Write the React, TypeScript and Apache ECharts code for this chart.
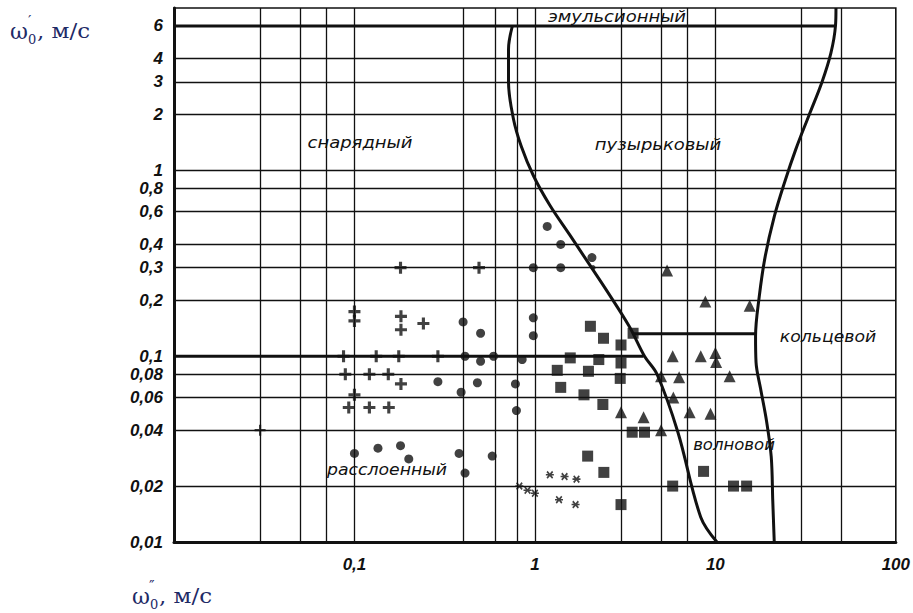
import React, { useEffect, useRef } from "react";
import * as echarts from "echarts";

// ---- axis ticks (grid lines) ----
const xGridValues = [0.03, 0.05, 0.07, 0.1, 0.4, 0.6, 0.8, 1, 3, 5, 7, 10, 30, 50];
const yTickValues = [0.01, 0.02, 0.04, 0.06, 0.08, 0.1, 0.2, 0.3, 0.4, 0.6, 0.8, 1, 2, 3, 4, 6];
const yTickLabels = ["0,01", "0,02", "0,04", "0,06", "0,08", "0,1", "0,2", "0,3", "0,4", "0,6", "0,8", "1", "2", "3", "4", "6"];
const yNoGridLine = [0.01, 0.1, 6];
const xLabelValues = [0.1, 1, 10, 100];
const xLabelTexts = ["0,1", "1", "10", "100"];

// ---- experimental points [w0'' , w0'] ----
const crosses = [
  [0.1, 0.174], [0.1, 0.155], [0.087, 0.1], [0.132, 0.1], [0.176, 0.1], [0.29, 0.1],
  [0.089, 0.08], [0.121, 0.08], [0.154, 0.08], [0.181, 0.071], [0.1, 0.062],
  [0.093, 0.053], [0.121, 0.053], [0.155, 0.053], [0.18, 0.3], [0.49, 0.3],
  [0.181, 0.164], [0.181, 0.139], [0.241, 0.15],
];
const smallCrosses = [[0.03, 0.04]];
const circles = [
  [1.17, 0.5], [1.39, 0.4], [2.07, 0.34], [0.98, 0.3], [1.39, 0.3], [0.4, 0.153],
  [0.5, 0.133], [0.98, 0.161], [0.98, 0.129], [0.41, 0.1], [0.5, 0.094], [0.59, 0.1],
  [0.85, 0.096], [0.29, 0.073], [0.48, 0.072], [0.78, 0.071], [0.39, 0.064],
  [0.79, 0.051], [0.1, 0.03], [0.135, 0.032], [0.18, 0.033], [0.2, 0.028],
  [0.38, 0.03], [0.58, 0.029], [0.41, 0.0235],
];
const smallCircles = [[2.1, 0.3]];
const stars = [
  [0.82, 0.02], [0.91, 0.019], [1.0, 0.0183], [1.21, 0.023], [1.46, 0.0225],
  [1.7, 0.0218], [1.36, 0.0169], [1.68, 0.0159],
];
const squares = [
  [2.03, 0.145], [2.4, 0.125], [3.0, 0.115], [3.5, 0.133], [1.57, 0.098], [2.26, 0.096],
  [3.0, 0.092], [1.33, 0.084], [1.98, 0.083], [2.97, 0.076], [1.39, 0.068], [1.87, 0.062],
  [2.38, 0.055], [3.46, 0.039], [4.05, 0.039], [1.96, 0.029], [2.41, 0.0237], [8.6, 0.024],
  [5.8, 0.02], [12.6, 0.02], [14.9, 0.02], [3.0, 0.0159],
];
const triangles = [
  [5.4, 0.29], [8.8, 0.197], [15.5, 0.187], [5.8, 0.1], [8.3, 0.1], [10, 0.104],
  [10.1, 0.093], [5.0, 0.078], [6.3, 0.077], [12, 0.078], [5.85, 0.06], [3.0, 0.05],
  [4.0, 0.047], [5.0, 0.04], [7.2, 0.05], [9.4, 0.049],
];

// ---- regime boundaries ----
const bubbleBoundary = [
  [0.75, 6], [0.714, 4.5], [0.714, 3.0], [0.76, 1.9], [0.84, 1.35], [0.98, 0.94],
  [1.21, 0.65], [1.56, 0.45], [1.97, 0.32], [2.49, 0.227], [3.33, 0.145], [4.05, 0.1],
  [4.75, 0.08], [6.2, 0.039], [8.3, 0.0136], [10.2, 0.01],
];
const annularBoundary = [
  [46.6, 7.5], [46.3, 6], [43.7, 4.3], [39, 3.0], [33, 1.98], [27.9, 1.3], [24.3, 0.876],
  [21.2, 0.565], [18.9, 0.346], [17.5, 0.209], [16.7, 0.128], [16.8, 0.093], [17.8, 0.067],
  [19.2, 0.045], [20.4, 0.0287], [20.8, 0.0167], [21.2, 0.01],
];
const emulsionLine = [[0.01, 6], [46.3, 6]];
const slugLine = [[0.01, 0.1], [4.0, 0.1]];
const annularLine = [[3.5, 0.132], [16.7, 0.132]];

// ---- region names ----
const regionNames = ["эмульсионный", "снарядный", "пузырьковый", "кольцевой", "волновой", "расслоенный"];

const INK = "#111111";
const TITLE = "#1e2a66";
const plusPath = "path://M3.7,0H6.3V3.7H10V6.3H6.3V10H3.7V6.3H0V3.7H3.7Z";
const thinPlusPath = "path://M4,0H6V4H10V6H6V10H4V6H0V4H4Z";
const starPath = "path://M0.8,2.2L2.2,0.8L5,3.6L7.8,0.8L9.2,2.2L6.4,5L9.2,7.8L7.8,9.2L5,6.4L2.2,9.2L0.8,7.8L3.6,5ZM0,4.2H10V5.8H0Z";

function txt(text: string, x: number, y: number, font: string, opts: any = {}) {
  const align = opts.align || "left";
  return {
    type: "text",
    x,
    y,
    scaleX: opts.scaleX || 1,
    z: 20,
    style: {
      text,
      font,
      fill: opts.fill || INK,
      textAlign: align,
      align,
      textVerticalAlign: "middle",
      verticalAlign: "middle",
    },
  };
}

export default function App() {
  const ref = useRef<HTMLDivElement>(null);
  useEffect(() => {
    const chart = echarts.init(ref.current!, null, { renderer: "svg" });
    const regionFont = 'italic 15px "DejaVu Sans"';
    const tickFont = { fontStyle: "italic", fontWeight: "bold", fontFamily: "Liberation Sans", fontSize: 17, color: INK };
    const pts = (data: number[][], symbol: string, size: number) => ({
      type: "scatter",
      data,
      symbol,
      symbolSize: size,
      itemStyle: { color: INK },
      z: 5,
      silent: true,
    });
    const bound = (data: number[][], smooth: number | boolean) => ({
      type: "line",
      data,
      smooth,
      symbol: "none",
      lineStyle: { color: INK, width: 3 },
      z: 4,
      silent: true,
    });
    const option: any = {
      animation: false,
      backgroundColor: "#ffffff",
      grid: { left: 174, right: 13, top: 8, bottom: 71, show: true, borderColor: INK, borderWidth: 1.6 },
      xAxis: {
        type: "log",
        logBase: 10,
        min: 0.01,
        max: 100,
        axisLine: { show: true, lineStyle: { color: INK, width: 3 } },
        axisTick: { show: false },
        splitLine: { show: false },
        axisLabel: {
          ...tickFont,
          margin: 14,
          showMinLabel: false,
          formatter: (v: number) => {
            const i = xLabelValues.findIndex((t) => Math.abs(Math.log10(v) - Math.log10(t)) < 0.01);
            return i >= 0 ? xLabelTexts[i] : "";
          },
        },
      },
      yAxis: {
        type: "log",
        logBase: 10,
        min: 0.01,
        max: 7.5,
        axisLine: { show: true, lineStyle: { color: INK, width: 3 } },
        axisTick: { show: false },
        splitLine: { show: false },
        axisLabel: { show: false },
      },
      series: [
        {
          type: "line",
          data: [],
          silent: true,
          z: 1,
          markLine: {
            silent: true,
            symbol: ["none", "none"],
            animation: false,
            lineStyle: { color: "#111", width: 1.3, type: "solid" },
            label: { show: false },
            data: xGridValues.map((v) => ({ xAxis: v })),
          },
        },
        {
          type: "line",
          data: [],
          silent: true,
          z: 1,
          markLine: {
            silent: true,
            symbol: ["none", "none"],
            animation: false,
            lineStyle: { color: "#111", width: 1.3, type: "solid" },
            label: {
              show: true,
              position: "start",
              distance: 11,
              formatter: (p: any) => p.name,
              ...tickFont,
            },
            data: yTickValues.map((v, i) => ({
              yAxis: v,
              name: yTickLabels[i],
              lineStyle: yNoGridLine.includes(v) ? { color: "rgba(0,0,0,0)", width: 0 } : undefined,
            })),
          },
        },
        bound(bubbleBoundary, 0.35),
        bound(annularBoundary, 0.35),
        bound(emulsionLine, false),
        bound(slugLine, false),
        bound(annularLine, false),
        pts(crosses, plusPath, 12),
        pts(smallCrosses, thinPlusPath, 11),
        pts(circles, "circle", 9),
        pts(smallCircles, "circle", 5),
        pts(stars, starPath, 8),
        pts(squares, "rect", 11),
        pts(triangles, "triangle", 12),
      ],
      graphic: [
        txt(regionNames[0], 617, 17, regionFont, { align: "center", scaleX: 1.2 }),
        txt(regionNames[1], 360, 143, regionFont, { align: "center", scaleX: 1.2 }),
        txt(regionNames[2], 658, 145, regionFont, { align: "center", scaleX: 1.2 }),
        txt(regionNames[3], 828, 337, regionFont, { align: "center", scaleX: 1.15 }),
        txt(regionNames[4], 734, 445, regionFont, { align: "center", scaleX: 1.1 }),
        txt(regionNames[5], 387, 470, regionFont, { align: "center", scaleX: 1.15 }),
        // y-axis title  ω'0, м/с
        txt("ω", 10, 31, '22px "DejaVu Serif"', { fill: TITLE }),
        txt("′", 28, 21, '15px "DejaVu Serif"', { fill: TITLE }),
        txt("0", 28, 39, '13px "DejaVu Serif"', { fill: TITLE }),
        txt(", м/с", 37, 31, '20px "DejaVu Serif"', { fill: TITLE, scaleX: 1.15 }),
        // x-axis title  ω''0, м/с
        txt("ω", 132, 596, '22px "DejaVu Serif"', { fill: TITLE }),
        txt("″", 149, 586, '15px "DejaVu Serif"', { fill: TITLE }),
        txt("0", 150, 604, '13px "DejaVu Serif"', { fill: TITLE }),
        txt(", м/с", 159, 596, '20px "DejaVu Serif"', { fill: TITLE, scaleX: 1.15 }),
      ],
    };
    chart.setOption(option);
    return () => chart.dispose();
  }, []);
  return (
    <div
      ref={ref}
      style={{ position: "absolute", left: 0, top: 0, width: 913, height: 613, background: "#fff" }}
    />
  );
}
